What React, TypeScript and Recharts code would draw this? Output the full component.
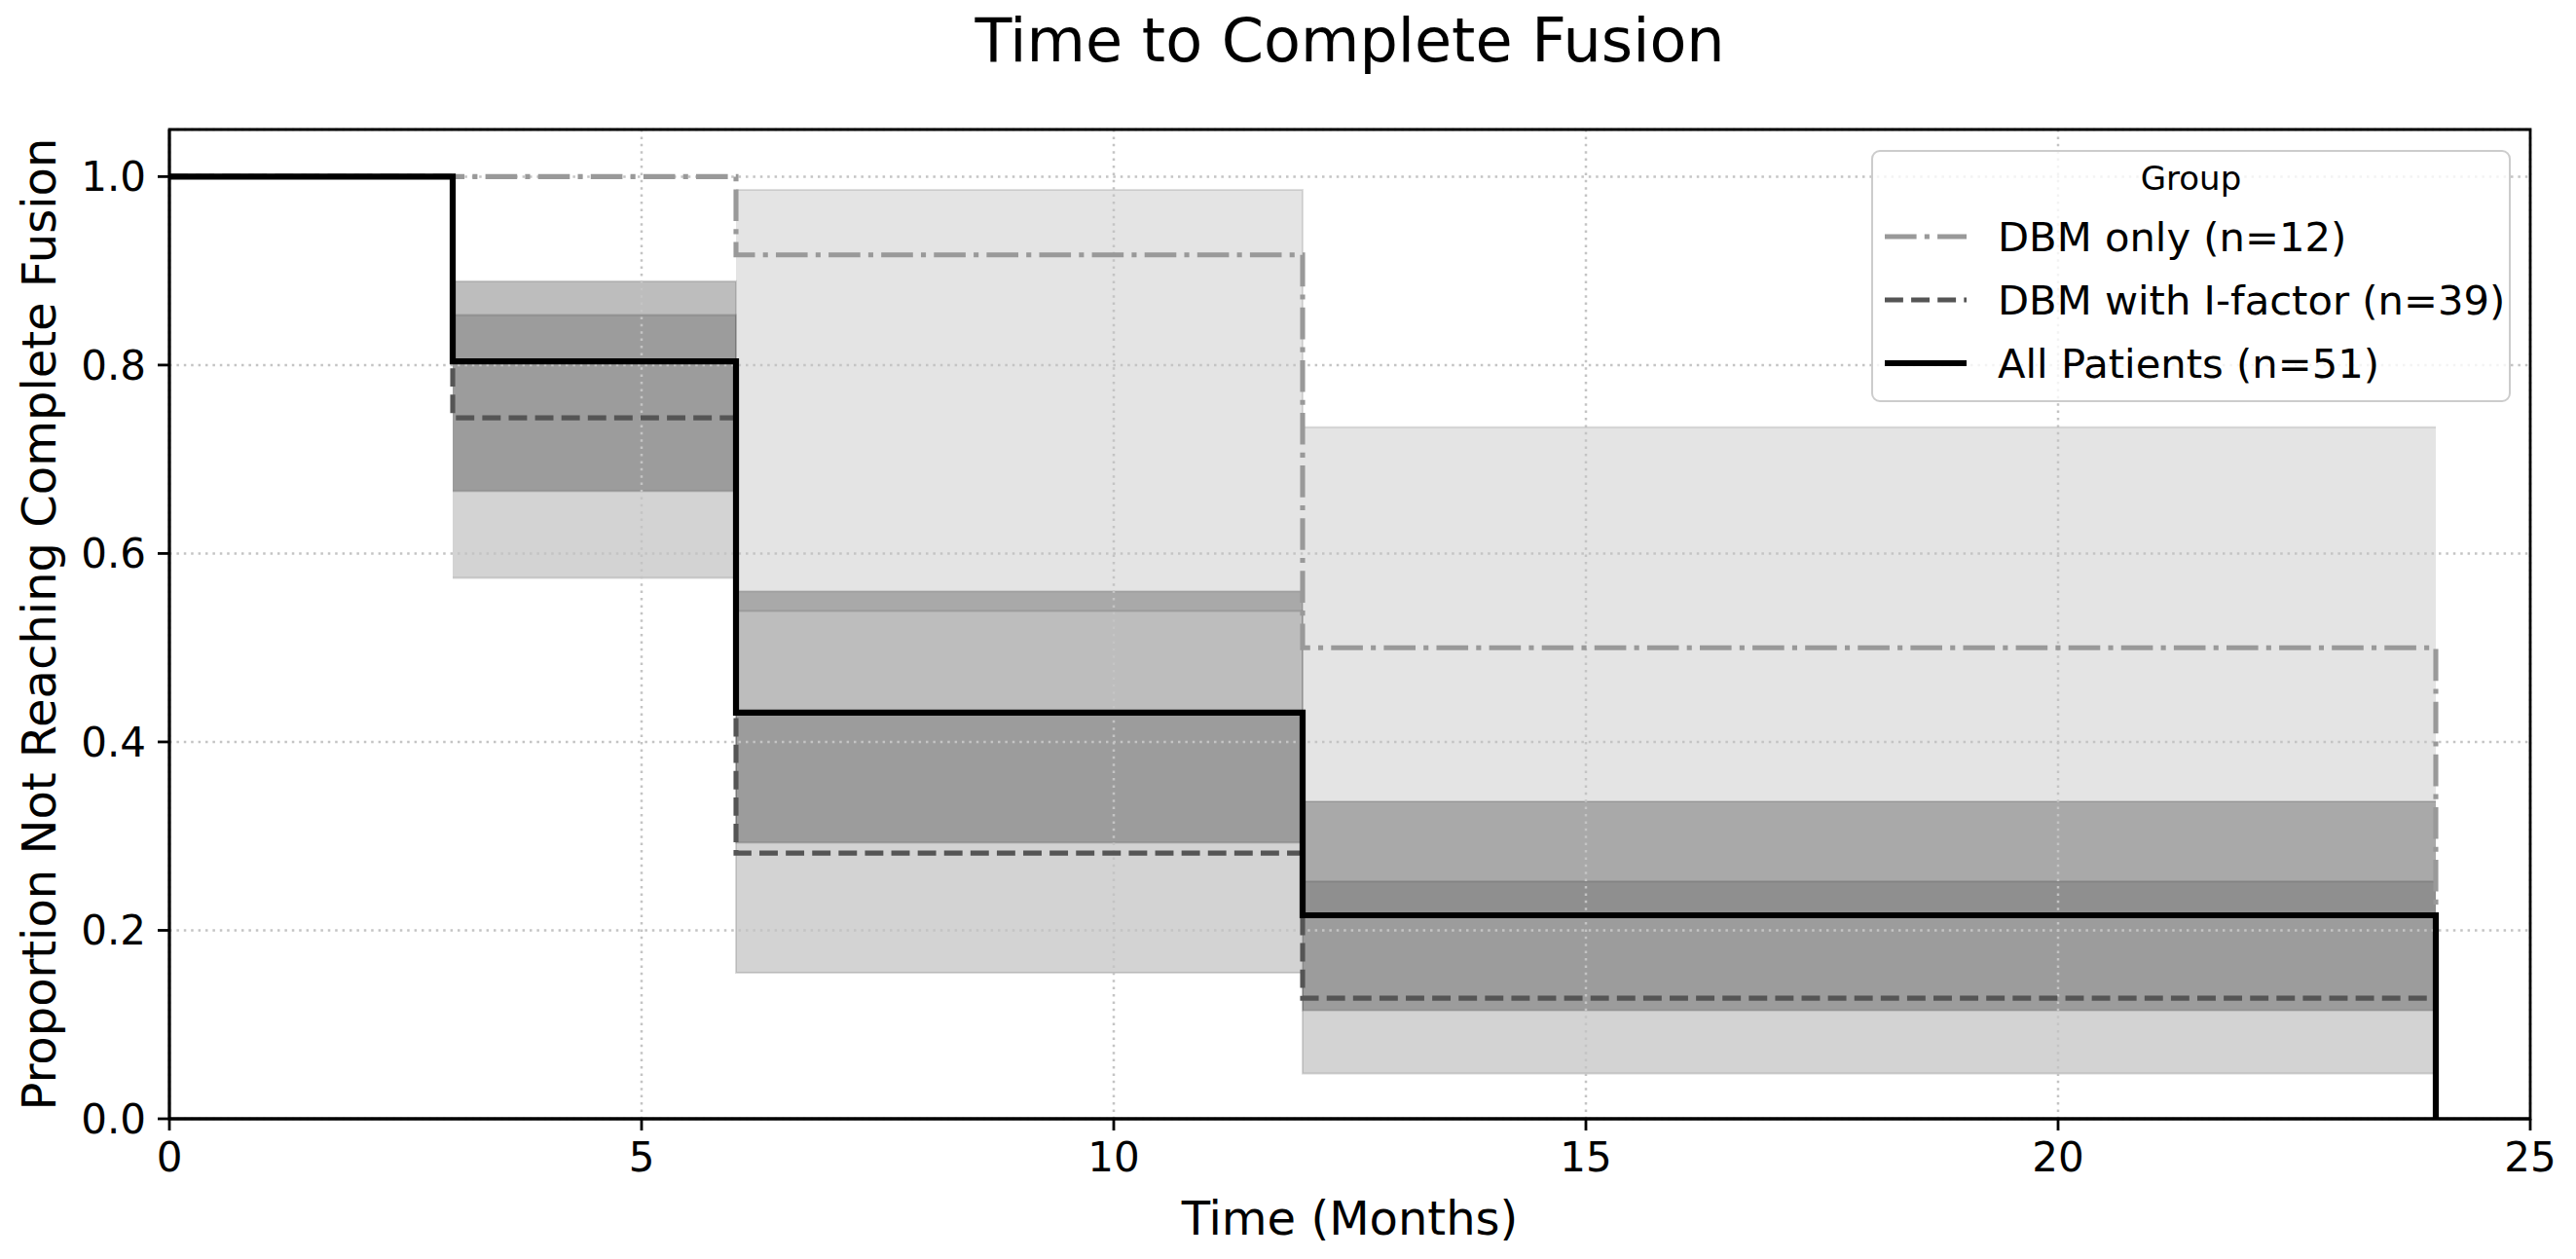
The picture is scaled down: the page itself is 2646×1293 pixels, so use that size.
import React from 'react';
import { ComposedChart, Area, Line, XAxis, YAxis, CartesianGrid, Legend, Label, ReferenceArea } from 'recharts';

// ---- data (Kaplan-Meier style step estimates) ----
const times = [0, 3, 6, 12, 24];
const dbmOnly = [1.0, 1.0, 0.917, 0.5, 0.0];
const dbmIFactor = [1.0, 0.744, 0.282, 0.128, 0.0];
const allPatients = [1.0, 0.804, 0.431, 0.216, 0.0];

// confidence bands
const dbmOnlyLower = [null, null, 0.539, 0.216, 0.216];
const dbmOnlyUpper = [null, null, 0.986, 0.734, 0.734];
const dbmIFactorLower = [null, 0.574, 0.155, 0.048, 0.048];
const dbmIFactorUpper = [null, 0.853, 0.431, 0.252, 0.252];
const allLower = [null, 0.666, 0.293, 0.115, 0.115];
const allUpper = [null, 0.889, 0.560, 0.337, 0.337];

const xDomain = [0, 25];
const yDomain = [0, 1.05];
const xTicks = [0, 5, 10, 15, 20, 25];
const yTicks = [0, 0.2, 0.4, 0.6, 0.8, 1.0];

const seriesNames = ['DBM only (n=12)', 'DBM with I-factor (n=39)', 'All Patients (n=51)'];
const legendTitle = 'Group';
const chartTitle = 'Time to Complete Fusion';
const xLabel = 'Time (Months)';
const yLabel = 'Proportion Not Reaching Complete Fusion';

const FONT = '"DejaVu Sans", Verdana, sans-serif';

const lineStyles = [
  { key: 'dbmOnly', color: '#999999', width: 5.1, dash: '32.6 8.2 5.1 8.2' },
  { key: 'dbmIFactor', color: '#555555', width: 5.1, dash: '18.9 8.2' },
  { key: 'allPatients', color: '#000000', width: 6.2, dash: undefined as string | undefined },
];

const range = (lo: (number | null)[], hi: (number | null)[], i: number) =>
  lo[i] == null || hi[i] == null ? null : [lo[i] as number, hi[i] as number];

const data = times.map((t, i) => ({
  t,
  dbmOnly: dbmOnly[i],
  dbmIFactor: dbmIFactor[i],
  allPatients: allPatients[i],
  dbmOnlyCI: range(dbmOnlyLower, dbmOnlyUpper, i),
  dbmIFactorCI: range(dbmIFactorLower, dbmIFactorUpper, i),
  allCI: range(allLower, allUpper, i),
}));

const renderLegend = () => (
  <svg width={657} height={259} style={{ display: 'block', fontFamily: FONT }}>
    <rect x={1} y={1} width={655} height={257} rx={8} ry={8} fill="#ffffff" fillOpacity={0.8} stroke="#cccccc" strokeWidth={2} />
    <text x={328.5} y={41} textAnchor="middle" fontSize={34} fill="#000">{legendTitle}</text>
    {seriesNames.map((name, i) => {
      const s = lineStyles[i];
      const cy = 89 + i * 65;
      return (
        <g key={name}>
          <line x1={14} x2={98} y1={cy} y2={cy} stroke={s.color} strokeWidth={s.width} strokeDasharray={s.dash} />
          <text x={130} y={cy + 15} fontSize={41.7} fill="#000">{name}</text>
        </g>
      );
    })}
  </svg>
);

const XLabelContent = (props: any) => {
  const vb = props.viewBox || { x: 174, y: 1149, width: 2425, height: 144 };
  return (
    <text x={vb.x + vb.width / 2} y={vb.y + 119} textAnchor="middle" fontSize={48} fill="#000" fontFamily={FONT}>
      {xLabel}
    </text>
  );
};

const YLabelContent = (props: any) => {
  const vb = props.viewBox || { x: 0, y: 133, width: 174, height: 1016 };
  const cx = vb.x + 57;
  const cy = vb.y + vb.height / 2;
  return (
    <text x={cx} y={cy} transform={`rotate(-90, ${cx}, ${cy})`} textAnchor="middle" fontSize={48} fill="#000" fontFamily={FONT}>
      {yLabel}
    </text>
  );
};

export default function App() {
  return (
    <div style={{ position: 'relative', width: 2646, height: 1293, margin: '-8px', background: '#fff', overflow: 'hidden', fontFamily: FONT }}>
      <ComposedChart width={2646} height={1293} data={data} margin={{ top: 133, right: 47, bottom: 0, left: 0 }}>
        <Area dataKey="dbmOnlyCI" type="stepAfter" fill="#808080" fillOpacity={0.21} stroke="#808080" strokeOpacity={0.25} strokeWidth={2} dot={false} activeDot={false} isAnimationActive={false} legendType="none" />
        <Area dataKey="dbmIFactorCI" type="stepAfter" fill="#808080" fillOpacity={0.35} stroke="#808080" strokeOpacity={0.3} strokeWidth={2} dot={false} activeDot={false} isAnimationActive={false} legendType="none" />
        <Area dataKey="allCI" type="stepAfter" fill="#000000" fillOpacity={0.26} stroke="#000000" strokeOpacity={0.12} strokeWidth={2} dot={false} activeDot={false} isAnimationActive={false} legendType="none" />
        <CartesianGrid stroke="#c4c4c4" strokeWidth={2.5} strokeDasharray="2.5 4.9" {...({ zIndex: 150 } as any)} />
        {lineStyles.map((s) => (
          <Line
            key={s.key}
            dataKey={s.key}
            type="stepAfter"
            stroke={s.color}
            strokeWidth={s.width}
            strokeDasharray={s.dash}
            dot={false}
            activeDot={false}
            isAnimationActive={false}
          />
        ))}
        <XAxis
          dataKey="t"
          type="number"
          domain={xDomain}
          ticks={xTicks}
          height={144}
          tickSize={12}
          tickMargin={12}
          axisLine={{ stroke: '#000', strokeWidth: 2.8 }}
          tickLine={{ stroke: '#000', strokeWidth: 2.8 }}
          tick={{ fontSize: 42, fill: '#000', fontFamily: FONT }}
        >
          <Label content={XLabelContent} />
        </XAxis>
        <YAxis
          type="number"
          domain={yDomain}
          ticks={yTicks}
          width={174}
          tickSize={12}
          tickMargin={12}
          tickFormatter={(v: number) => v.toFixed(1)}
          axisLine={{ stroke: '#000', strokeWidth: 2.8 }}
          tickLine={{ stroke: '#000', strokeWidth: 2.8 }}
          tick={{ fontSize: 42, fill: '#000', fontFamily: FONT }}
        >
          <Label content={YLabelContent} />
        </YAxis>
        <ReferenceArea
          x1={xDomain[0]}
          x2={xDomain[1]}
          y1={yDomain[0]}
          y2={yDomain[1]}
          fill="none"
          fillOpacity={0}
          stroke="#000"
          strokeWidth={2.8}
          strokeOpacity={1}
          ifOverflow="visible"
          {...({ zIndex: 600 } as any)}
        />
        <Legend
          layout="vertical"
          align="center"
          verticalAlign="middle"
          content={renderLegend}
          wrapperStyle={{ left: 1922, top: 154, width: 657, height: 259 }}
        />
      </ComposedChart>
      <div style={{ position: 'absolute', left: 174, width: 2425, top: 11, textAlign: 'center', fontSize: 62, lineHeight: '62px', color: '#000', fontFamily: FONT }}>
        {chartTitle}
      </div>
    </div>
  );
}
